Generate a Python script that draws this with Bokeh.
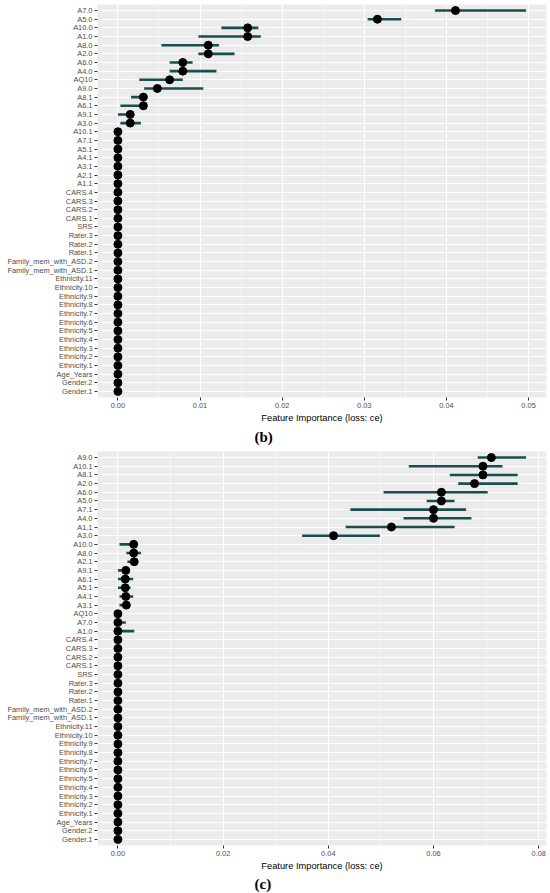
from bokeh.plotting import figure
from bokeh.models import Range1d, FactorRange, SingleIntervalTicker, Title, ColumnDataSource, PrintfTickFormatter
from bokeh.layouts import column
from bokeh.embed import file_html
from bokeh.resources import INLINE

tail = ["CARS.4", "CARS.3", "CARS.2", "CARS.1", "SRS", "Rater.3", "Rater.2", "Rater.1",
        "Family_mem_with_ASD.2", "Family_mem_with_ASD.1", "Ethnicity.11", "Ethnicity.10",
        "Ethnicity.9", "Ethnicity.8", "Ethnicity.7", "Ethnicity.6", "Ethnicity.5", "Ethnicity.4",
        "Ethnicity.3", "Ethnicity.2", "Ethnicity.1", "Age_Years", "Gender.2", "Gender.1"]

# panel (b)
b_features = ["A7.0", "A5.0", "A10.0", "A1.0", "A8.0", "A2.0", "A6.0", "A4.0", "AQ10", "A9.0",
              "A8.1", "A6.1", "A9.1", "A3.0", "A10.1", "A7.1", "A5.1", "A4.1", "A3.1", "A2.1",
              "A1.1"] + tail
b_imp_head = [0.0411, 0.0316, 0.0158, 0.0158, 0.0110, 0.0110, 0.0079, 0.0079, 0.0063, 0.0048,
              0.0031, 0.0031, 0.0015, 0.0015]
b_lo_head = [0.0386, 0.0304, 0.0126, 0.0098, 0.0053, 0.0098, 0.0063, 0.0063, 0.0026, 0.0032,
             0.0016, 0.0003, 0.0000, 0.0003]
b_hi_head = [0.0497, 0.0345, 0.0171, 0.0174, 0.0123, 0.0142, 0.0091, 0.0120, 0.0079, 0.0104,
             0.0034, 0.0034, 0.0016, 0.0028]
b_zero_count = len(b_features) - len(b_imp_head)
b_imp = b_imp_head + [0.0] * b_zero_count
b_lo = b_lo_head + [0.0] * b_zero_count
b_hi = b_hi_head + [0.0] * b_zero_count

# panel (c)
c_features = ["A9.0", "A10.1", "A8.1", "A2.0", "A6.0", "A5.0", "A7.1", "A4.0", "A1.1", "A3.0",
              "A10.0", "A8.0", "A2.1", "A9.1", "A6.1", "A5.1", "A4.1", "A3.1", "AQ10", "A7.0",
              "A1.0"] + tail
c_imp_head = [0.0710, 0.0694, 0.0694, 0.0678, 0.0615, 0.0615, 0.0600, 0.0600, 0.0520, 0.0410,
              0.0030, 0.0030, 0.0031, 0.0015, 0.0014, 0.0014, 0.0015, 0.0016, 0.0, 0.0, 0.0]
c_lo_head = [0.0684, 0.0553, 0.0631, 0.0647, 0.0505, 0.0587, 0.0442, 0.0543, 0.0433, 0.0350,
             0.0003, 0.0016, 0.0018, 0.0000, 0.0000, 0.0000, 0.0003, 0.0003, 0.0, 0.0, 0.0]
c_hi_head = [0.0776, 0.0731, 0.0760, 0.0760, 0.0703, 0.0640, 0.0662, 0.0672, 0.0640, 0.0498,
             0.0030, 0.0044, 0.0031, 0.0015, 0.0029, 0.0024, 0.0029, 0.0016, 0.0, 0.0015, 0.0031]
c_zero_count = len(c_features) - len(c_imp_head)
c_imp = c_imp_head + [0.0] * c_zero_count
c_lo = c_lo_head + [0.0] * c_zero_count
c_hi = c_hi_head + [0.0] * c_zero_count

x_title = "Feature Importance (loss: ce)"
SANS = "Liberation Sans"


def make_panel(features, imp, lo, hi, tick_interval, caption, height, top_border, cap_standoff):
    data_max = max(hi)
    pad = 0.05 * data_max
    yr = FactorRange(factors=features[::-1], range_padding=0.2, range_padding_units="absolute")
    p = figure(width=550, height=height, y_range=yr, x_range=Range1d(-pad, data_max + pad),
               output_backend="svg", toolbar_location=None,
               min_border_left=97, min_border_right=4, min_border_top=top_border,
               min_border_bottom=48)
    p.background_fill_color = "#EBEBEB"
    p.border_fill_color = "white"
    p.outline_line_color = None

    ticker = SingleIntervalTicker(interval=tick_interval, num_minor_ticks=2)
    p.xaxis.ticker = ticker
    p.xgrid.ticker = ticker
    p.xaxis.formatter = PrintfTickFormatter(format="%.2f")
    p.xgrid.grid_line_color = "white"
    p.xgrid.grid_line_width = 1.1
    p.xgrid.minor_grid_line_color = "white"
    p.xgrid.minor_grid_line_width = 0.55
    p.ygrid.grid_line_color = "white"
    p.ygrid.grid_line_width = 1.1

    for ax in (p.xaxis[0], p.yaxis[0]):
        ax.axis_line_color = None
        ax.minor_tick_line_color = None
        ax.major_tick_line_color = "#333333"
        ax.major_tick_out = 3
        ax.major_tick_in = 0
        ax.major_label_text_font = SANS
        ax.major_label_text_font_size = "7.4px"
        ax.major_label_text_color = "#4D4D4D"
    p.yaxis.major_label_standoff = 2
    p.xaxis.major_label_standoff = 1
    p.xaxis.axis_label = x_title
    p.xaxis.axis_label_text_font = SANS
    p.xaxis.axis_label_text_font_size = "9.3px"
    p.xaxis.axis_label_text_font_style = "normal"
    p.xaxis.axis_label_text_color = "black"
    p.xaxis.axis_label_standoff = 2

    src = ColumnDataSource(dict(feature=features, imp=imp, lo=lo, hi=hi))
    p.segment(x0="lo", y0="feature", x1="hi", y1="feature", source=src,
              line_color="#1a4d4f", line_width=2.6)
    p.scatter(x="imp", y="feature", source=src, size=8, color="black")

    t = Title(text=caption, align="left", offset=157, text_font="Liberation Serif",
              text_font_size="15px", text_font_style="bold", text_color="black",
              standoff=cap_standoff)
    p.add_layout(t, "below")
    return p


p1 = make_panel(b_features, b_imp, b_lo, b_hi, 0.01, "(b)", 446, 4, 3)
p2 = make_panel(c_features, c_imp, c_lo, c_hi, 0.02, "(c)", 447, 5, 0)
p = column(p1, p2, spacing=0)

open("out.html", "w").write(file_html(p, INLINE))
